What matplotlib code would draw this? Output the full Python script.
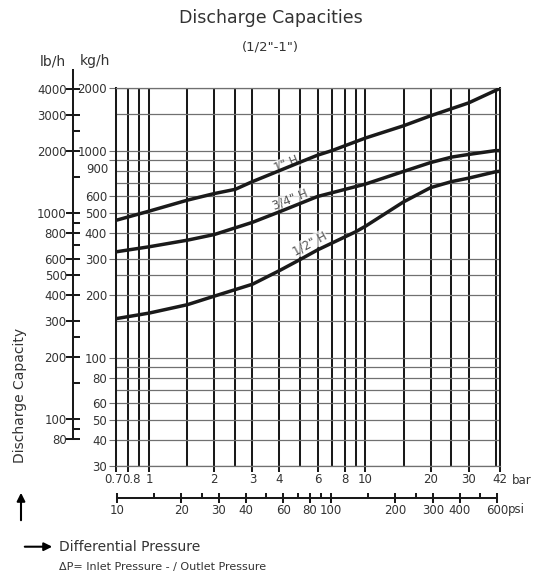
import matplotlib
matplotlib.use('Agg')
import matplotlib.pyplot as plt
import matplotlib.ticker as ticker
from matplotlib.transforms import ScaledTranslation
import numpy as np

# capacity curves, kg/h against differential pressure in bar
bar_1in = [0.7, 1, 1.5, 2, 2.5, 3, 4, 5, 6, 7, 10, 15, 20, 30, 42]
kg_1in = [460, 510, 576, 620, 650, 708, 800, 880, 950, 1000, 1150, 1318, 1473, 1700, 2000]

bar_34in = [0.7, 1, 1.5, 2, 3, 4, 6, 10, 15, 20, 25, 30, 40, 42]
kg_34in = [324, 343, 369, 393, 450, 506, 600, 689, 793, 875, 930, 958, 1000, 1000]

bar_12in = [0.7, 1, 1.5, 2, 3, 4, 5, 6, 9, 10, 15, 20, 25, 30, 40, 42]
kg_12in = [154, 164, 180, 198, 226, 263, 298, 331, 405, 431, 565, 662, 708, 736, 790, 795]

bar_ticks = [0.7, 0.8, 1, 2, 3, 4, 6, 8, 10, 20, 30, 42]
bar_labels = ['0.7', '0.8', '1', '2', '3', '4', '6', '8', '10', '20', '30', '42']
bar_minor = [0.9, 1.5, 2.5, 5, 7, 9, 15, 25, 40]
kg_ticks = [30, 40, 50, 60, 80, 100, 200, 300, 400, 500, 600, 900, 1000, 2000]
kg_minor = [70, 90, 150, 250, 700, 800, 1500]
lb_ticks = [80, 100, 200, 300, 400, 500, 600, 800, 1000, 2000, 3000, 4000]
lb_minor = [90, 150, 250, 700, 900, 1500, 2500]
psi_ticks = [10, 20, 30, 40, 60, 80, 100, 200, 300, 400, 600]
psi_minor = [15, 25, 50, 70, 90, 150, 250, 500]

W, H = 542, 573
TXT = '#333333'
INK = '#1a1a1a'
GRID_H = '#707070'
plt.rcParams['font.family'] = 'DejaVu Sans'


def box(x0, y0, x1, y1):
    # pixel box (top-left origin) -> figure fraction
    return [x0 / W, 1 - y1 / H, (x1 - x0) / W, (y1 - y0) / H]


fig = plt.figure(figsize=(W / 100, H / 100), dpi=100)

ax = fig.add_axes(box(115.8, 88.3, 500.2, 465.7))
ax.set_xscale('log')
ax.set_yscale('log')
ax.set_xlim(0.7, 42)
ax.set_ylim(30, 2000)

ax.set_xticks(bar_ticks, labels=bar_labels)
ax.set_xticks(bar_minor, minor=True)
ax.xaxis.set_minor_formatter(ticker.NullFormatter())
ax.set_yticks(kg_ticks, labels=[str(v) if v != 900 else '' for v in kg_ticks])
ax.set_yticks(kg_minor, minor=True)
ax.yaxis.set_minor_formatter(ticker.NullFormatter())

ax.tick_params(axis='x', which='major', direction='out', length=4.3, width=1.45,
               color=INK, labelsize=8.5, labelcolor=TXT, pad=1)
ax.tick_params(axis='x', which='minor', length=0)
ax.tick_params(axis='y', which='major', direction='out', length=5.4, width=0.8,
               color=GRID_H, labelsize=8.5, labelcolor=TXT, pad=1)
ax.tick_params(axis='y', which='minor', length=0)

# 0.7 and 0.8 sit close together, nudge them apart a little
xlabs = ax.get_xticklabels()
xlabs[0].set_transform(xlabs[0].get_transform() + ScaledTranslation(-0.025, 0, fig.dpi_scale_trans))
xlabs[1].set_transform(xlabs[1].get_transform() + ScaledTranslation(0.03, 0, fig.dpi_scale_trans))

ax.grid(axis='x', which='both', color=INK, linewidth=1.45)
ax.grid(axis='y', which='both', color=GRID_H, linewidth=0.9)
for side in ['left', 'right']:
    ax.spines[side].set_color(INK)
    ax.spines[side].set_linewidth(1.45)
for side in ['top', 'bottom']:
    ax.spines[side].set_color(GRID_H)
    ax.spines[side].set_linewidth(0.9)

ax.annotate('900', xy=(0, 900), xycoords=('axes fraction', 'data'),
            xytext=(-5.5, -7), textcoords='offset points',
            ha='right', va='center', fontsize=8.5, color=TXT)

for xs, ys in [(bar_1in, kg_1in), (bar_34in, kg_34in), (bar_12in, kg_12in)]:
    ax.plot(xs, ys, color=INK, linewidth=2.5, solid_capstyle='butt',
            solid_joinstyle='round', zorder=5)


def slope_deg(x0, y0, x1, y1):
    p = ax.transData.transform([(x0, y0), (x1, y1)])
    return np.degrees(np.arctan2(p[1, 1] - p[0, 1], p[1, 0] - p[0, 0]))


curve_labels = [('1" H', 4.3, 860, slope_deg(4, 800, 6, 950)),
                ('3/4" H', 4.5, 580, slope_deg(4, 506, 6, 600)),
                ('1/2" H', 5.5, 355, slope_deg(4, 263, 6, 331))]
for s, x, y, ang in curve_labels:
    ax.text(x, y, s, rotation=ang, rotation_mode='anchor', ha='center', va='center',
            fontsize=8.5, color='#555555', zorder=4,
            bbox=dict(facecolor='white', edgecolor='none', alpha=0.7, pad=0.5))

# lb/h scale
ax_lb = fig.add_axes(box(73.3, 70, 74.3, 439.3))
ax_lb.patch.set_visible(False)
ax_lb.set_yscale('log')
ax_lb.set_ylim(80, 4000 * 10 ** ((89.3 - 70) / 206))
ax_lb.set_yticks(lb_ticks, labels=[str(v) for v in lb_ticks])
ax_lb.set_yticks(lb_minor, minor=True)
ax_lb.yaxis.set_minor_formatter(ticker.NullFormatter())
ax_lb.xaxis.set_visible(False)
for side in ['top', 'right', 'bottom']:
    ax_lb.spines[side].set_visible(False)
ax_lb.spines['left'].set_color(INK)
ax_lb.spines['left'].set_linewidth(1.45)
ax_lb.tick_params(axis='y', which='major', direction='inout', length=9.4, width=1.45,
                  color=INK, labelsize=8.5, labelcolor=TXT, pad=0)
ax_lb.tick_params(axis='y', which='minor', direction='in', length=4.7, width=1.45, color=INK)

# psi scale
ax_psi = fig.add_axes(box(116.7, 490, 497.3, 498.3))
ax_psi.patch.set_visible(False)
ax_psi.set_xscale('log')
ax_psi.set_xlim(10, 600)
ax_psi.set_xticks(psi_ticks, labels=[str(v) for v in psi_ticks])
ax_psi.set_xticks(psi_minor, minor=True)
ax_psi.xaxis.set_minor_formatter(ticker.NullFormatter())
ax_psi.yaxis.set_visible(False)
for side in ['top', 'right', 'left']:
    ax_psi.spines[side].set_visible(False)
ax_psi.spines['bottom'].set_color(INK)
ax_psi.spines['bottom'].set_linewidth(1.45)
ax_psi.tick_params(axis='x', which='major', direction='inout', length=6.5, width=1.45,
                   color=INK, labelsize=8.5, labelcolor=TXT, pad=1)
ax_psi.tick_params(axis='x', which='minor', direction='in', length=3.4, width=1.45, color=INK)


def ftext(x, y, s, **kw):
    fig.text(x / W, 1 - y / H, s, color=TXT, **kw)


ftext(270.5, 18.3, 'Discharge Capacities', fontsize=12.5, ha='center', va='center')
ftext(270, 46.7, '(1/2"-1")', fontsize=9.5, ha='center', va='center')
ftext(52.7, 61.5, 'lb/h', fontsize=10, ha='center', va='center')
ftext(95, 61.5, 'kg/h', fontsize=10, ha='center', va='center')
ftext(512, 480, 'bar', fontsize=8.5, ha='left', va='center')
ftext(508, 510, 'psi', fontsize=8.5, ha='left', va='center')
ftext(20.5, 395, 'Discharge Capacity', fontsize=10, ha='center', va='center', rotation=90)
ftext(58.8, 546.7, 'Differential Pressure', fontsize=10, ha='left', va='center')
ftext(58.8, 566.7, 'ΔP= Inlet Pressure - / Outlet Pressure', fontsize=8, ha='left', va='center')

ax.annotate('', xy=(21, H - 490), xytext=(21, H - 523), xycoords='figure pixels',
            textcoords='figure pixels',
            arrowprops=dict(arrowstyle='-|>', color='black', lw=1.5, mutation_scale=12))
ax.annotate('', xy=(55, H - 546.7), xytext=(22, H - 546.7), xycoords='figure pixels',
            textcoords='figure pixels',
            arrowprops=dict(arrowstyle='-|>', color='black', lw=1.5, mutation_scale=12))

fig.savefig('out.png', dpi=100)
